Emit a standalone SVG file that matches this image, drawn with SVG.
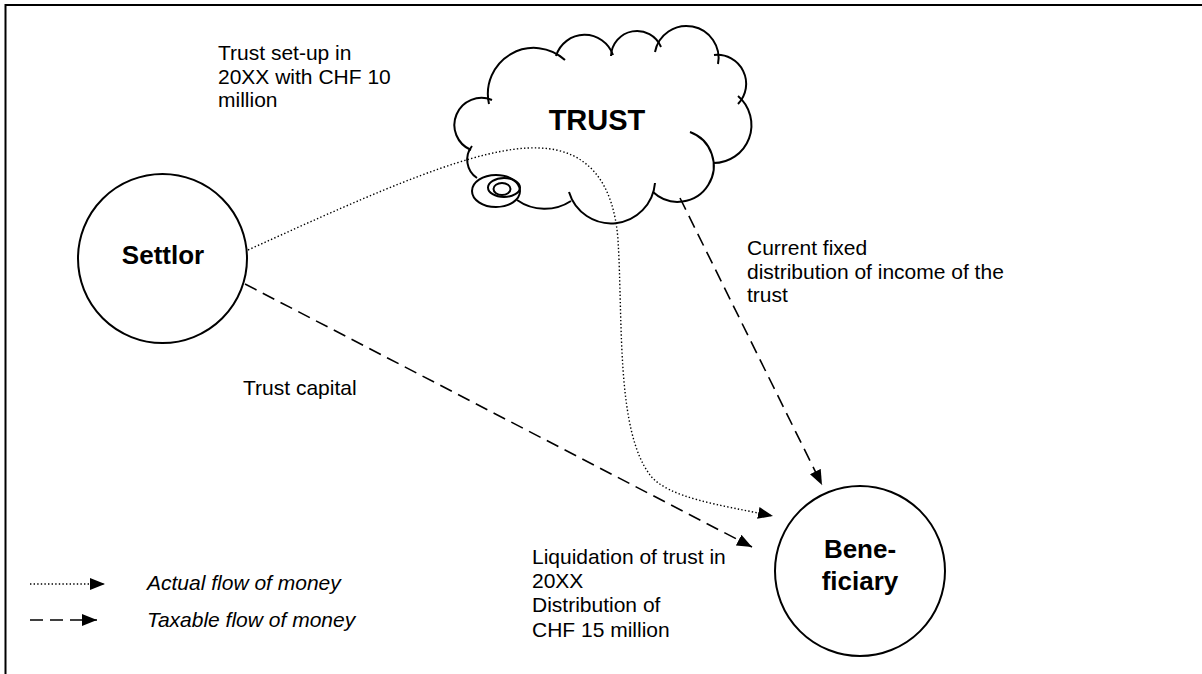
<svg xmlns="http://www.w3.org/2000/svg" width="1202" height="674" viewBox="0 0 1202 674">
<style>
  .t { font-family: "Liberation Sans", Arial, sans-serif; font-size: 21px; fill: #000; }
  .it { font-style: italic; }
  .b { font-family: "Liberation Sans", Arial, sans-serif; font-weight: bold; fill: #000; text-anchor: middle; }
  .node { fill: none; stroke: #000; stroke-width: 2; }
  .dash { fill: none; stroke: #000; stroke-width: 1.6; stroke-dasharray: 13 7; }
  .dot { fill: none; stroke: #000; stroke-width: 1.4; stroke-dasharray: 1.4 2.2; }
</style>
<defs>
  <marker id="arr" markerUnits="userSpaceOnUse" markerWidth="16" markerHeight="13" refX="15" refY="6" orient="auto">
    <path d="M0,0 L15,6 L0,12 z" fill="#000"/>
  </marker>
</defs>
<rect x="0" y="0" width="1202" height="674" fill="#fff"/>
<g id="frame" stroke="#000" stroke-width="2" fill="none">
  <line x1="5" y1="5" x2="1202" y2="5"/>
  <line x1="5.5" y1="4" x2="5.5" y2="674"/>
</g>
<g id="trust">
  <g class="node">
    <path d="M477 178 A22 22 0 0 1 472 146"/>
    <path d="M471 150 A27 27 0 0 1 492 100"/>
    <path d="M489 104 A46 46 0 0 1 565 60"/>
    <path d="M556 56 A30 30 0 0 1 613 55"/>
    <path d="M611 56 A26 26 0 0 1 661 47"/>
    <path d="M655 52 A32 32 0 0 1 718 64"/>
    <path d="M714 55 A29 29 0 0 1 738 104"/>
    <path d="M738 96 A38 38 0 0 1 713 163"/>
    <path d="M690 132 A36 36 0 1 1 653 192"/>
    <path d="M655 183 A44 44 0 0 1 569 192"/>
    <path d="M571 201 A48 48 0 0 1 517 200"/>
    <ellipse cx="496" cy="191" rx="24" ry="16"/>
    <ellipse cx="504" cy="187.5" rx="16" ry="9.5"/>
    <ellipse cx="502" cy="189" rx="8.5" ry="6"/>
  </g>
  <text class="b" x="597" y="130" font-size="29">TRUST</text>
</g>
<g id="settlor">
  <circle class="node" cx="162.5" cy="258.5" r="84.5"/>
  <text class="b" x="163" y="264" font-size="26">Settlor</text>
</g>
<g id="beneficiary">
  <circle class="node" cx="860" cy="571" r="85"/>
  <text class="b" x="860" y="558" font-size="26">Bene-</text>
  <text class="b" x="860" y="590" font-size="26">ficiary</text>
</g>
<g id="connectors">
  <path class="dot" d="M248 250 C380 190 480 145 540 148 C590 150 614 185 618 240 C623 320 616 430 650 475 C668 498 720 505 773 516" marker-end="url(#arr)"/>
  <path class="dash" d="M245 284 L752 547" marker-end="url(#arr)"/>
  <path class="dash" d="M680 198 L822 485" marker-end="url(#arr)"/>
</g>
<g id="labels">
  <text class="t" x="218" y="60">Trust set-up in</text>
  <text class="t" x="218" y="84">20XX with CHF 10</text>
  <text class="t" x="218" y="107">million</text>
  <text class="t" x="747" y="255">Current fixed</text>
  <text class="t" x="747" y="279">distribution of income of the</text>
  <text class="t" x="747" y="302">trust</text>
  <text class="t" x="243" y="395">Trust capital</text>
  <text class="t" x="532" y="564">Liquidation of trust in</text>
  <text class="t" x="532" y="588">20XX</text>
  <text class="t" x="532" y="612">Distribution of</text>
  <text class="t" x="532" y="637">CHF 15 million</text>
</g>
<g id="legend">
  <path class="dot" d="M30 584 L105 584" marker-end="url(#arr)"/>
  <path class="dash" d="M30 620 L97 620" marker-end="url(#arr)"/>
  <text class="t it" x="147" y="590">Actual flow of money</text>
  <text class="t it" x="147" y="627">Taxable flow of money</text>
</g>
</svg>
